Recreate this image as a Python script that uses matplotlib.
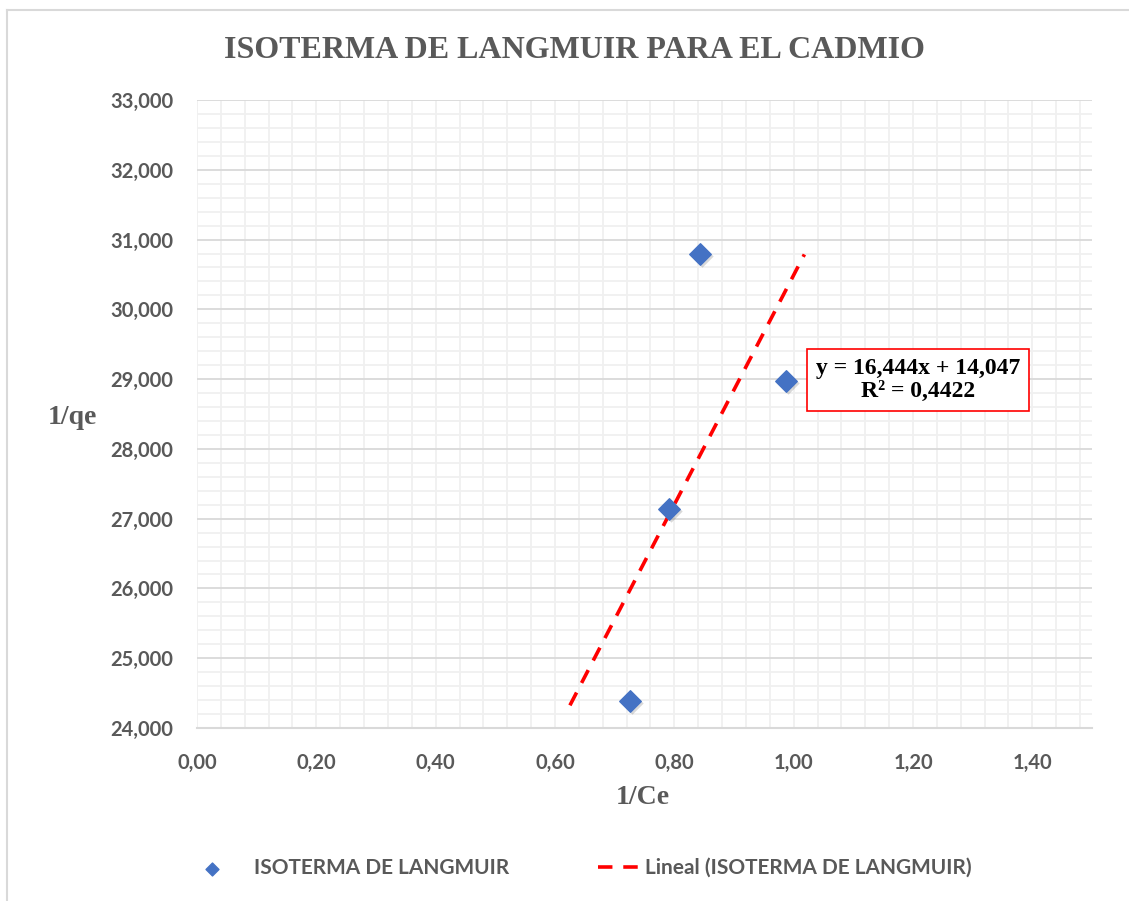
import matplotlib.pyplot as plt
import numpy as np
from matplotlib.ticker import MultipleLocator, FuncFormatter
from matplotlib.lines import Line2D

# datos
inv_ce = [0.843, 0.987, 0.791, 0.726]
inv_qe = [30.79, 28.97, 27.14, 24.39]
slope, intercept = 16.444, 14.047
fit_range = [0.625, 1.018]
eq_text = "y = 16,444x + 14,047\nR² = 0,4422"
eq_pos = (1.208, 28.99)

GRAY = "#595959"
SANS = ["Lato", "DejaVu Sans"]
SERIF = ["Liberation Serif", "DejaVu Serif"]

fig = plt.figure(figsize=(11.29, 9.01), dpi=100)
ax = fig.add_axes([197/1129, 1-728/901, (1092-197)/1129, (728-100)/901])

# marco exterior
fig.add_artist(Line2D([7/1129, 1], [1-10/901, 1-10/901], color="#D9D9D9", lw=1.5))
fig.add_artist(Line2D([7/1129, 7/1129], [0, 1-10/901], color="#D9D9D9", lw=1.5))

ax.set_xlim(0, 1.5)
ax.set_ylim(24, 33)
ax.xaxis.set_major_locator(MultipleLocator(0.2))
ax.xaxis.set_minor_locator(MultipleLocator(0.04))
ax.yaxis.set_major_locator(MultipleLocator(1))
ax.yaxis.set_minor_locator(MultipleLocator(0.2))
ax.xaxis.set_major_formatter(FuncFormatter(lambda v, p: f"{v:.2f}".replace(".", ",")))
ax.yaxis.set_major_formatter(FuncFormatter(lambda v, p: f"{v:.3f}".replace(".", ",")))

ax.grid(which="both", axis="x", color="#F0F0F0", lw=1.3)
ax.grid(which="minor", axis="y", color="#F0F0F0", lw=1.3)
ax.grid(which="major", axis="y", color="#D9D9D9", lw=1.3)
ax.set_axisbelow(True)
for s in ["top", "right", "left"]:
    ax.spines[s].set_visible(False)
ax.spines["bottom"].set_color("#D9D9D9")
ax.spines["bottom"].set_linewidth(1.5)
ax.tick_params(which="both", length=0)
ax.tick_params(axis="y", pad=17)
ax.tick_params(axis="x", pad=18)
for lab in ax.get_xticklabels() + ax.get_yticklabels():
    lab.set_fontfamily(SANS)
    lab.set_fontweight("bold")
    lab.set_fontsize(14.5)
    lab.set_color(GRAY)

# linea de tendencia
xf = np.array(fit_range)
trend, = ax.plot(xf, slope*xf + intercept, color="#FF0000", lw=2.6, ls=(0, (4, 3)),
                 zorder=3)
# sombra + puntos
ax.scatter(np.array(inv_ce)+0.003, np.array(inv_qe)-0.03, marker="D", s=130,
           color="#000000", alpha=0.15, linewidths=0, zorder=3)
pts = ax.scatter(inv_ce, inv_qe, marker="D", s=120, color="#4472C4", zorder=4)

ax.text(eq_pos[0], eq_pos[1], eq_text, ha="center", va="center", fontfamily=SERIF,
        fontweight="bold", fontsize=17, color="black", linespacing=1.1,
        bbox=dict(boxstyle="square,pad=0.38", fc="white", ec="#FF0000", lw=1.2))

fig.text(575/1129, 1-50/901, "ISOTERMA DE LANGMUIR PARA EL CADMIO", ha="center",
         va="center", fontfamily=SERIF, fontweight="bold", fontsize=23, color=GRAY)
fig.text(72/1129, 1-417/901, "1/qe", ha="center", va="center", fontfamily=SERIF,
         fontweight="bold", fontsize=20, color=GRAY)
fig.text(643/1129, 1-798/901, "1/Ce", ha="center", va="center", fontfamily=SERIF,
         fontweight="bold", fontsize=20, color=GRAY)

legprop = dict(family=SANS, weight="bold", size=15)
leg1 = fig.legend([pts], ["ISOTERMA DE LANGMUIR"], loc="center left",
                  bbox_to_anchor=(202/1129, 1-868/901), frameon=False, prop=legprop,
                  borderpad=0, borderaxespad=0, handlelength=1.0, handletextpad=1.5,
                  markerscale=0.6)
leg2 = fig.legend([trend], ["Lineal (ISOTERMA DE LANGMUIR)"], loc="center left",
                  bbox_to_anchor=(598/1129, 1-868/901), frameon=False, prop=legprop,
                  borderpad=0, borderaxespad=0, handlelength=2.0, handletextpad=0.25)
for leg in (leg1, leg2):
    for t in leg.get_texts():
        t.set_color(GRAY)

fig.savefig("out.png", dpi=100)
